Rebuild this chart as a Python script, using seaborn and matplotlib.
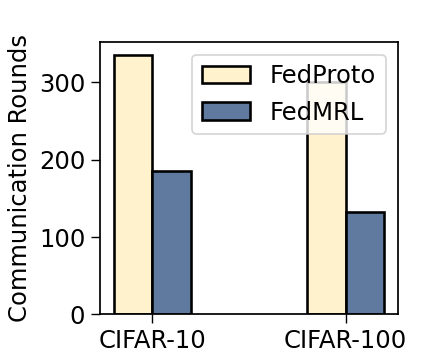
import pandas as pd
import seaborn as sns
import matplotlib.pyplot as plt
from matplotlib.patches import Patch

# Values
datasets = ["CIFAR-10", "CIFAR-100"]
methods = ["FedProto", "FedMRL"]
fedproto_rounds = [335, 300]
fedmrl_rounds = [185, 132]
colors = {"FedProto": "#FFF2CC", "FedMRL": "#5F799F"}

df = pd.DataFrame({
    "dataset": datasets * 2,
    "method": ["FedProto"] * 2 + ["FedMRL"] * 2,
    "rounds": fedproto_rounds + fedmrl_rounds,
})

sns.set_style("ticks")
plt.rcParams["font.family"] = ["DejaVu Sans"]
for key in ["text.color", "axes.labelcolor", "xtick.color", "ytick.color"]:
    plt.rcParams[key] = "black"

fig = plt.figure(figsize=(3.544, 2.832), dpi=125)
ax = sns.barplot(
    data=df,
    x="dataset",
    y="rounds",
    hue="method",
    hue_order=methods,
    palette=colors,
    width=0.4,
    edgecolor="black",
    linewidth=1.5,
    saturation=1,
    errorbar=None,
    legend=False,
)

ax.set_xlim(-0.27, 1.27)
ax.set_ylim(0, 351.75)
ax.set_yticks([0, 100, 200, 300])
ax.set_xlabel("")
ax.set_ylabel("Communication Rounds", fontsize=14)
ax.tick_params(axis="both", labelsize=14, direction="out", colors="black", length=5)
for spine in ["top", "bottom", "left", "right"]:
    ax.spines[spine].set_visible(True)
    ax.spines[spine].set_color("black")
    ax.spines[spine].set_linewidth(1.0)

# Legend with full-size patch handles
handles = [Patch(facecolor=colors[m], edgecolor="black", linewidth=1.5) for m in methods]
ax.legend(handles, methods, fontsize=14, loc="upper right", framealpha=0.8,
          handlelength=2.0, handletextpad=0.8)

plt.subplots_adjust(left=0.226, right=0.898, bottom=0.112, top=0.88)
plt.savefig("out.png", dpi=125)
